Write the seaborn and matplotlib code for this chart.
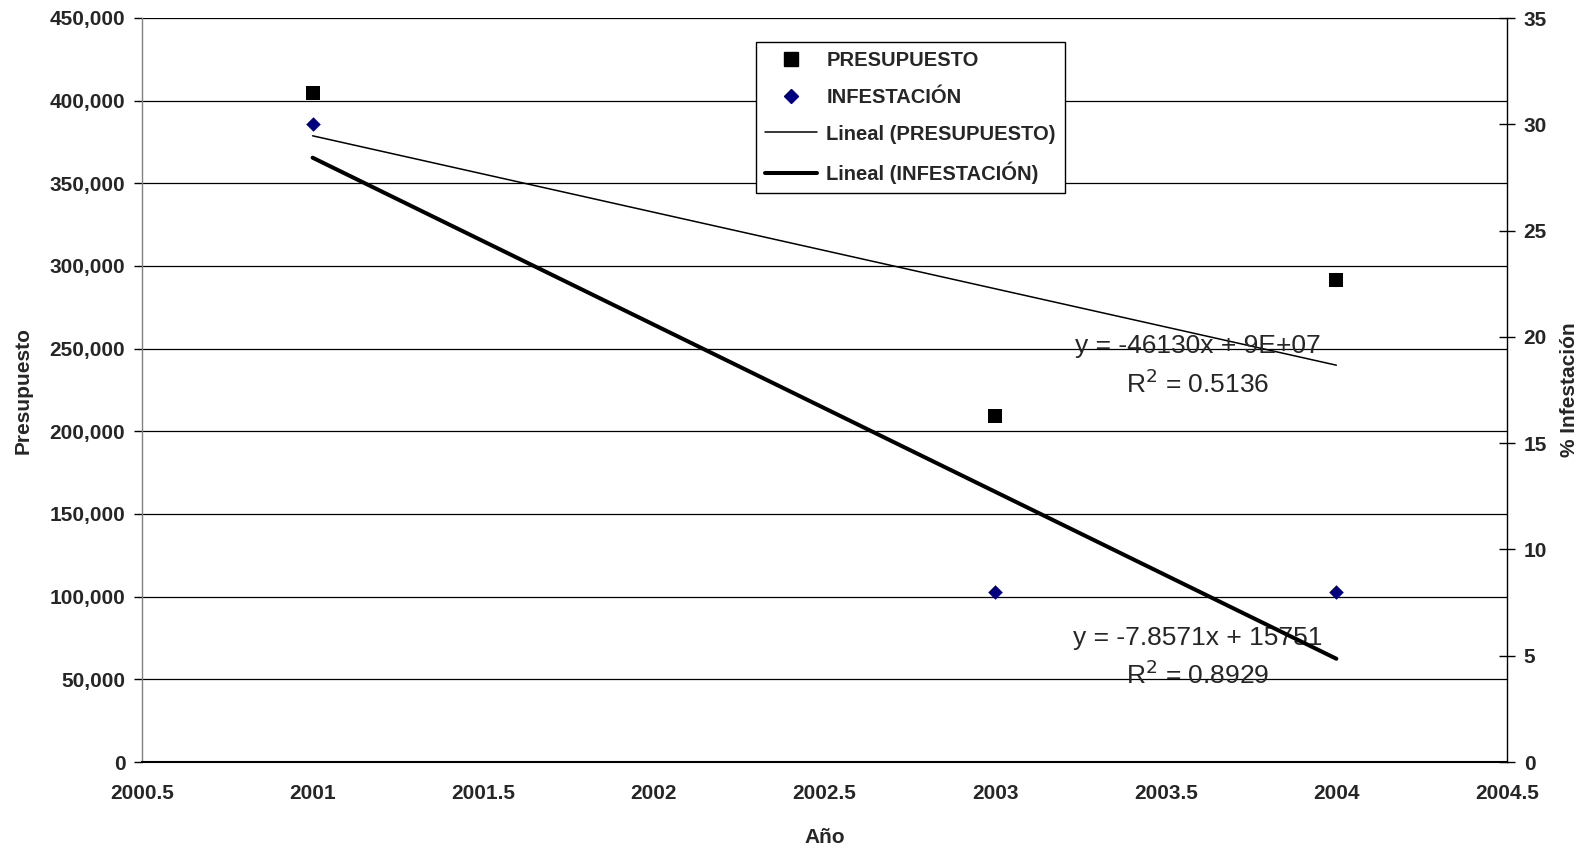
import numpy as np
import pandas as pd
import matplotlib
matplotlib.use("Agg")
import matplotlib.pyplot as plt
import seaborn as sns
from matplotlib import font_manager
from matplotlib.lines import Line2D

# ---- data ----
anios = [2001, 2003, 2004]
presupuesto = [404500, 209000, 291500]
infestacion = [30, 8, 8]
eq_presupuesto = "y = -46130x + 9E+07"
r2_presupuesto = "R$^2$ = 0.5136"
eq_infestacion = "y = -7.8571x + 15751"
r2_infestacion = "R$^2$ = 0.8929"

sns.set_theme(style="white")
plt.rcParams['font.family'] = ['Liberation Sans', 'DejaVu Sans']
names = {f.name for f in font_manager.fontManager.ttflist}
narrow = 'Liberation Sans Narrow' if 'Liberation Sans Narrow' in names else 'Liberation Sans'

df = pd.DataFrame({"Año": anios, "Presupuesto": presupuesto, "Infestacion": infestacion})

# linear trends (least squares from the data)
p1 = np.polyfit(anios, presupuesto, 1)
p2 = np.polyfit(anios, infestacion, 1)
trend = pd.DataFrame({"Año": [anios[0], anios[-1]]})
trend["P"] = np.polyval(p1, trend["Año"])
trend["I"] = np.polyval(p2, trend["Año"])

fig = plt.figure(figsize=(15.88, 8.48), dpi=100)
ax1 = fig.add_axes([142/1588, 1-762/848, (1507-142)/1588, (762-18)/848])
ax2 = ax1.twinx()

# gridlines
ax1.set_axisbelow(True)
ax1.yaxis.grid(True, color='black', linewidth=0.9)
ax1.xaxis.grid(False)

sns.lineplot(data=trend, x="Año", y="P", ax=ax1, color='black', linewidth=1.1, legend=False)
sns.scatterplot(data=df, x="Año", y="Presupuesto", ax=ax1, marker='s', s=90,
                color='black', edgecolor='black', linewidth=0, legend=False, zorder=5)
sns.lineplot(data=trend, x="Año", y="I", ax=ax2, color='black', linewidth=2.9, legend=False)
sns.scatterplot(data=df, x="Año", y="Infestacion", ax=ax2, marker='D', s=55,
                color='#000080', edgecolor='#000080', linewidth=0, legend=False, zorder=5)

ax1.set_xlim(2000.5, 2004.5)
ax1.set_ylim(0, 450000)
ax2.set_ylim(0, 35)
ax1.set_xticks(np.arange(2000.5, 2004.51, 0.5))
ax1.set_xticklabels([f"{v:g}" for v in np.arange(2000.5, 2004.51, 0.5)],
                    fontsize=15, fontweight='bold', family=narrow)
ax1.set_yticks(np.arange(0, 450001, 50000))
ax1.set_yticklabels([f"{int(v):,}" for v in np.arange(0, 450001, 50000)],
                    fontsize=15, fontweight='bold')
ax2.set_yticks(np.arange(0, 36, 5))
ax2.set_yticklabels([str(v) for v in range(0, 36, 5)], fontsize=15, fontweight='bold')

ax1.tick_params(axis='both', direction='out', length=6, width=1, color='black', pad=6)
ax1.tick_params(axis='x', pad=10)
ax2.tick_params(axis='y', direction='inout', length=12, width=1, color='black', pad=6)

for ax in (ax1, ax2):
    ax.spines['top'].set_visible(False)
ax1.spines['right'].set_visible(False)
ax1.spines['left'].set_color('#808080')
ax1.spines['left'].set_linewidth(1)
ax1.spines['bottom'].set_color('black')
ax1.spines['bottom'].set_linewidth(1.5)
ax2.spines['left'].set_visible(False)
ax2.spines['bottom'].set_visible(False)
ax2.spines['right'].set_color('black')
ax2.spines['right'].set_linewidth(1)

ax1.set_xlabel("Año", fontsize=15, fontweight='bold', labelpad=18)
ax1.set_ylabel("Presupuesto", fontsize=15, fontweight='bold', labelpad=12)
ax2.set_ylabel("% Infestación", fontsize=15, fontweight='bold', labelpad=9)

# trendline equations
ax1.text(2003.594, 251500, eq_presupuesto, fontsize=19, ha='center', va='center', zorder=10)
ax1.text(2003.594, 229000, r2_presupuesto, fontsize=19, ha='center', va='center', zorder=10)
ax1.text(2003.594, 75000, eq_infestacion, fontsize=19, ha='center', va='center', zorder=10)
ax1.text(2003.594, 53000, r2_infestacion, fontsize=19, ha='center', va='center', zorder=10)

handles = [
    Line2D([], [], marker='s', color='black', linestyle='none', markersize=10),
    Line2D([], [], marker='D', color='#000080', linestyle='none', markersize=7),
    Line2D([], [], color='black', linewidth=1.1),
    Line2D([], [], color='black', linewidth=2.9),
]
labels = ["PRESUPUESTO", "INFESTACIÓN", "Lineal (PRESUPUESTO)", "Lineal (INFESTACIÓN)"]
leg = ax2.legend(handles, labels, loc='upper left', bbox_to_anchor=(756/1588, 1-42/848),
                 bbox_transform=fig.transFigure, frameon=True, fancybox=False,
                 framealpha=1, edgecolor='black', prop={'weight': 'bold', 'size': 14.5},
                 handlelength=2.6, handletextpad=0.45, labelspacing=0.88, borderpad=0.45,
                 borderaxespad=0)
leg.get_frame().set_linewidth(1)
leg.set_zorder(20)

fig.savefig("out.png", dpi=100, facecolor='white')
